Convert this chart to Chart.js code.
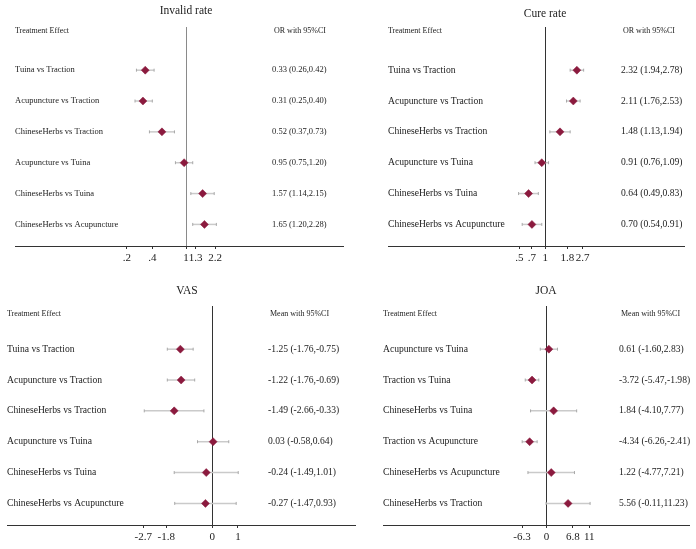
<!DOCTYPE html>
<html>
<head>
<meta charset="utf-8">
<script src="https://cdn.jsdelivr.net/npm/chart.js@4.4.1/dist/chart.umd.min.js"></script>
<style>
body { margin: 0; background: #fff; width: 696px; height: 549px; overflow: hidden; position: relative; }
canvas { position: absolute; }
</style>
</head>
<body>
<canvas id="c1" width="348" height="280" style="left:0;top:0"></canvas>
<canvas id="c2" width="348" height="280" style="left:348px;top:0"></canvas>
<canvas id="c3" width="362" height="270" style="left:0;top:279px"></canvas>
<canvas id="c4" width="348" height="270" style="left:348px;top:279px"></canvas>
<script>
// comparisons
const baseLabels = ['Tuina vs Traction', 'Acupuncture vs Traction', 'ChineseHerbs vs Traction',
  'Acupuncture vs Tuina', 'ChineseHerbs vs Tuina', 'ChineseHerbs vs Acupuncture'];
const joaLabels = ['Acupuncture vs Tuina', 'Traction vs Tuina', 'ChineseHerbs vs Tuina',
  'Traction vs Acupuncture', 'ChineseHerbs vs Acupuncture', 'ChineseHerbs vs Traction'];

// Invalid rate (OR)
const invalidOR = [0.33, 0.31, 0.52, 0.95, 1.57, 1.65];
const invalidLow = [0.26, 0.25, 0.37, 0.75, 1.14, 1.20];
const invalidHigh = [0.42, 0.40, 0.73, 1.20, 2.15, 2.28];
const invalidTicks = [0.2, 0.4, 1, 1.3, 2.2];

// Cure rate (OR)
const cureOR = [2.32, 2.11, 1.48, 0.91, 0.64, 0.70];
const cureLow = [1.94, 1.76, 1.13, 0.76, 0.49, 0.54];
const cureHigh = [2.78, 2.53, 1.94, 1.09, 0.83, 0.91];
const cureTicks = [0.5, 0.7, 1, 1.8, 2.7];

// VAS (mean difference)
const vasMean = [-1.25, -1.22, -1.49, 0.03, -0.24, -0.27];
const vasLow = [-1.76, -1.76, -2.66, -0.58, -1.49, -1.47];
const vasHigh = [-0.75, -0.69, -0.33, 0.64, 1.01, 0.93];
const vasTicks = [-2.7, -1.8, 0, 1];

// JOA (mean difference)
const joaMean = [0.61, -3.72, 1.84, -4.34, 1.22, 5.56];
const joaLow = [-1.60, -5.47, -4.10, -6.26, -4.77, -0.11];
const joaHigh = [2.83, -1.98, 7.77, -2.41, 7.21, 11.23];
const joaTicks = [-6.3, 0, 6.8, 11];

const SERIF = '"Liberation Serif", "DejaVu Serif", serif';
const fmt = v => v.toFixed(2);

// draws title, headers, row labels and the estimate column
const forestText = {
  id: 'forestText',
  afterDraw(chart, args, o) {
    const ctx = chart.ctx;
    const y = chart.scales.y;
    const area = chart.chartArea;
    ctx.save();
    ctx.fillStyle = '#222';
    ctx.textBaseline = 'middle';
    ctx.textAlign = 'center';
    ctx.font = '11.5px ' + SERIF;
    ctx.fillText(o.title, o.titleX, o.titleY);
    ctx.textAlign = 'left';
    ctx.font = '8px ' + SERIF;
    ctx.fillText('Treatment Effect', area.left, o.headY);
    ctx.fillText(o.head, o.textX + 2, o.headY);
    ctx.font = o.size + 'px ' + SERIF;
    o.labels.forEach((lab, i) => {
      const py = y.getPixelForValue(i + 1);
      ctx.fillText(lab, area.left, py);
      ctx.fillText(fmt(o.est[i]) + ' (' + fmt(o.lo[i]) + ',' + fmt(o.hi[i]) + ')', o.textX, py);
    });
    ctx.restore();
  }
};

function makeDatasets(est, lo, hi) {
  // estimates first so they are painted over the CI whiskers
  const ds = [{
    data: est.map((v, i) => ({x: v, y: i + 1})),
    showLine: false,
    pointStyle: 'rectRot',
    pointRadius: 4,
    pointBackgroundColor: '#8b1a3e',
    pointBorderColor: '#8b1a3e',
    pointBorderWidth: 0.5
  }];
  lo.forEach((l, i) => ds.push({
    data: [{x: l, y: i + 1}, {x: hi[i], y: i + 1}],
    showLine: true,
    borderColor: '#cacaca',
    borderWidth: 1.5,
    pointStyle: 'line',
    rotation: 90,
    pointRadius: 1.5,
    pointBorderColor: '#a8a8a8',
    pointBorderWidth: 1
  }));
  return ds;
}

function makePanel(id, p) {
  const canvas = document.getElementById(id);
  const axisH = canvas.height - 246;
  new Chart(canvas, {
    type: 'scatter',
    data: { datasets: makeDatasets(p.est, p.lo, p.hi) },
    options: {
      responsive: false,
      animation: false,
      events: [],
      layout: { padding: { left: p.padLeft, right: p.padRight, top: 27, bottom: 0 } },
      scales: {
        x: {
          type: p.log ? 'logarithmic' : 'linear',
          min: p.min,
          max: p.max,
          bounds: 'data',
          afterBuildTicks: s => { s.ticks = p.ticks.map(v => ({value: v})); },
          afterFit: s => { s.height = axisH; },
          border: { display: true, color: '#333', width: 1 },
          grid: {
            drawOnChartArea: true,
            drawTicks: true,
            tickLength: 3,
            tickColor: '#333',
            lineWidth: 1,
            color: c => (c.tick && c.tick.value === p.ref) ? p.refColor : 'rgba(0,0,0,0)'
          },
          ticks: {
            autoSkip: false,
            maxRotation: 0,
            padding: 3,
            color: '#222',
            font: { family: SERIF, size: 11 },
            callback: v => String(v).replace(/^0\./, '.')
          }
        },
        y: { type: 'linear', reverse: true, min: -0.4, max: 6.7, display: false }
      },
      plugins: {
        legend: { display: false },
        tooltip: { enabled: false },
        forestText: {
          title: p.title, titleX: p.titleX, titleY: p.titleY,
          head: p.head, headY: p.headY, textX: p.textX, size: p.size,
          labels: p.labels, est: p.est, lo: p.lo, hi: p.hi
        }
      }
    },
    plugins: [forestText]
  });
}

makePanel('c1', {
  title: 'Invalid rate', titleX: 186, titleY: 11, head: 'OR with 95%CI', headY: 31,
  textX: 272, size: 8.5, labels: baseLabels,
  est: invalidOR, lo: invalidLow, hi: invalidHigh, ticks: invalidTicks,
  log: true, min: 0.00959, max: 71.2, ref: 1, refColor: '#8a8a8a',
  padLeft: 15, padRight: 5
});

makePanel('c2', {
  title: 'Cure rate', titleX: 197, titleY: 14, head: 'OR with 95%CI', headY: 31,
  textX: 273, size: 9.6, labels: baseLabels,
  est: cureOR, lo: cureLow, hi: cureHigh, ticks: cureTicks,
  log: true, min: 0.01507, max: 40.4, ref: 1, refColor: '#333',
  padLeft: 40, padRight: 12
});

makePanel('c3', {
  title: 'VAS', titleX: 187, titleY: 12, head: 'Mean with 95%CI', headY: 35,
  textX: 268, size: 9.6, labels: baseLabels,
  est: vasMean, lo: vasLow, hi: vasHigh, ticks: vasTicks,
  log: false, min: -8.02, max: 5.57, ref: 0, refColor: '#333',
  padLeft: 7, padRight: 7
});

makePanel('c4', {
  title: 'JOA', titleX: 198, titleY: 12, head: 'Mean with 95%CI', headY: 35,
  textX: 271, size: 9.6, labels: joaLabels,
  est: joaMean, lo: joaLow, hi: joaHigh, ticks: joaTicks,
  log: false, min: -42.1, max: 36.7, ref: 0, refColor: '#333',
  padLeft: 35, padRight: 7
});
</script>
</body>
</html>
